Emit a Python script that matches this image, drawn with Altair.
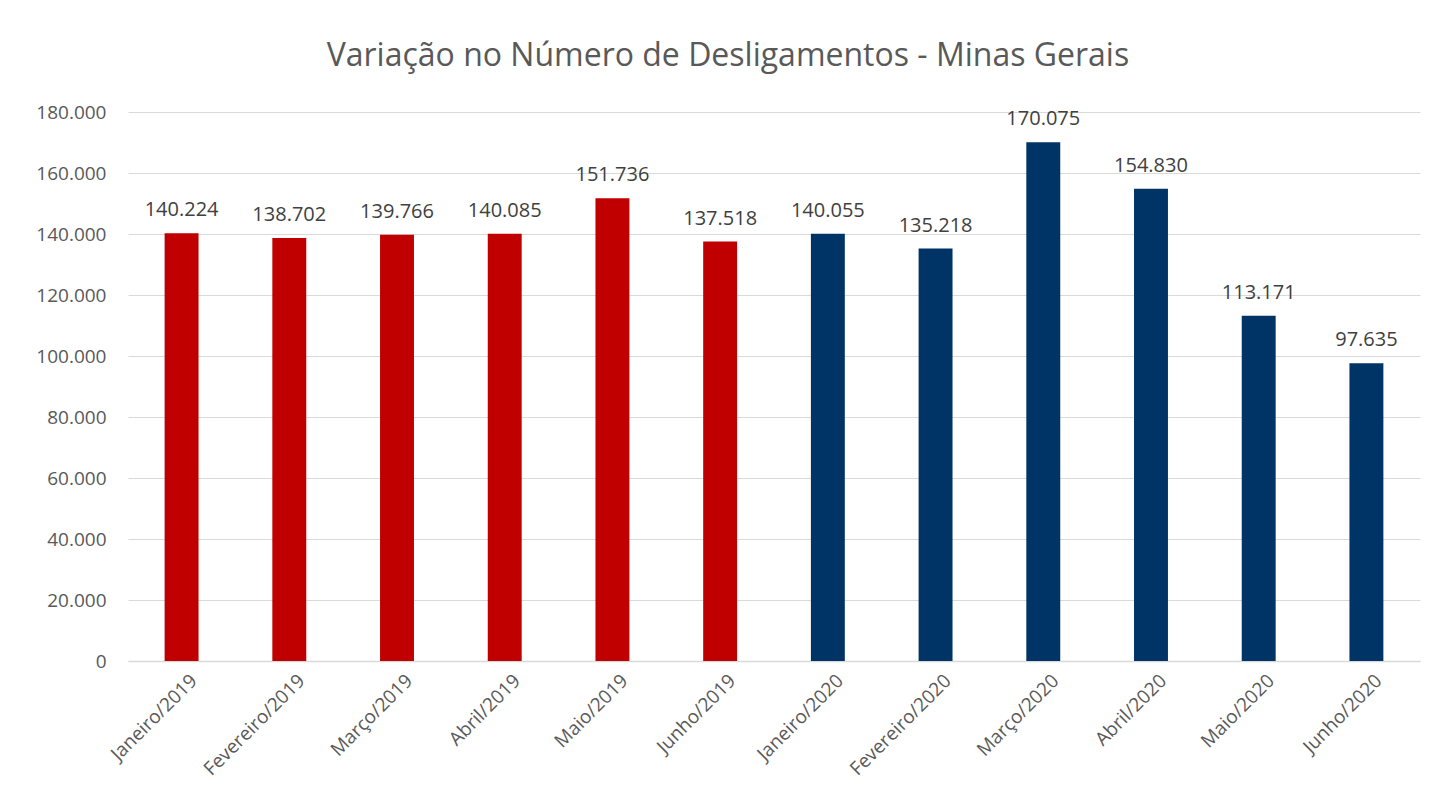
import altair as alt
import pandas as pd

months = ["Janeiro/2019", "Fevereiro/2019", "Março/2019", "Abril/2019", "Maio/2019", "Junho/2019",
          "Janeiro/2020", "Fevereiro/2020", "Março/2020", "Abril/2020", "Maio/2020", "Junho/2020"]
values = [140224, 138702, 139766, 140085, 151736, 137518,
          140055, 135218, 170075, 154830, 113171, 97635]
years = ["2019"] * 6 + ["2020"] * 6
y_ticks = [0, 20000, 40000, 60000, 80000, 100000, 120000, 140000, 160000, 180000]

df = pd.DataFrame({"mes": months, "valor": values, "ano": years})

FONT = "Open Sans"

base = alt.Chart(df).encode(
    x=alt.X("mes:N", sort=months, title=None,
            scale=alt.Scale(paddingInner=0.685, paddingOuter=0.34),
            axis=alt.Axis(labelAngle=-45, labelFontSize=19, labelColor="#595959", labelFont=FONT,
                          ticks=False, domainColor="#D9D9D9", domainWidth=1.5, labelPadding=10,
                          labelOffset=6)),
    y=alt.Y("valor:Q", title=None,
            scale=alt.Scale(domain=[0, 180000]),
            axis=alt.Axis(values=y_ticks, format=",.0f", labelFontSize=19,
                          labelColor="#595959", labelFont=FONT, ticks=False, domain=False,
                          gridColor="#D9D9D9", gridWidth=1.2, labelPadding=22)),
)

bars = base.mark_bar().encode(
    color=alt.Color("ano:N", scale=alt.Scale(domain=["2019", "2020"], range=["#C00000", "#003366"]),
                    legend=None)
)

labels = base.mark_text(baseline="bottom", dy=-13, fontSize=20, color="#404040", font=FONT).encode(
    text=alt.Text("valor:Q", format=",.0f")
)

chart = (bars + labels).properties(
    width=1292, height=549,
    title=alt.TitleParams("Variação no Número de Desligamentos - Minas Gerais",
                          fontSize=32, font=FONT, fontWeight="normal", color="#595959", offset=30,
                          frame="bounds"),
    autosize=alt.AutoSizeParams(type="none"),
    padding={"left": 120, "top": 104, "right": 20, "bottom": 140},
).configure(
    locale={"number": {"decimal": ",", "thousands": ".", "grouping": [3], "currency": ["R$", ""]}}
).configure_view(stroke=None)

chart.save("out.html", embed_options={"renderer": "svg", "actions": False})
